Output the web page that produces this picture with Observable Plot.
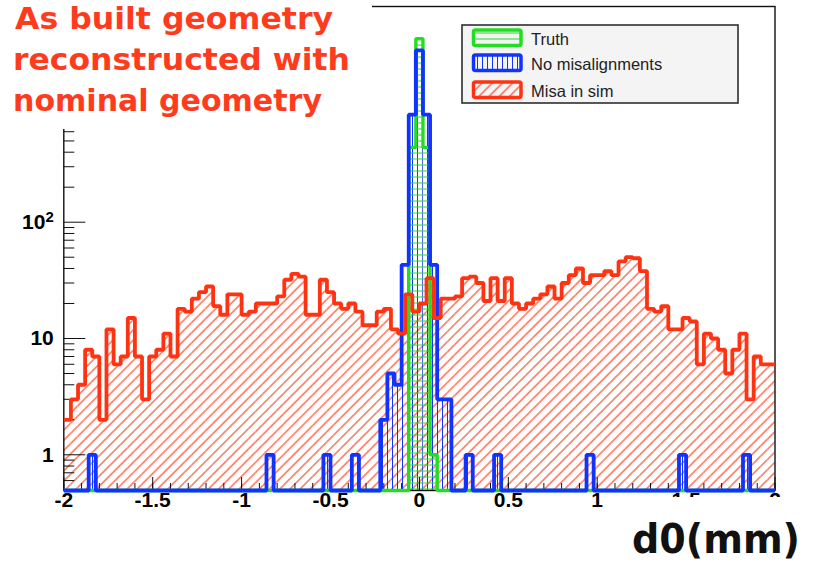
<!DOCTYPE html>
<html>
<head>
<meta charset="utf-8">
<script src="https://cdn.jsdelivr.net/npm/d3@7"></script>
<script src="https://cdn.jsdelivr.net/npm/@observablehq/plot@0.6"></script>
<style>
  html, body { margin: 0; padding: 0; background: #fff; }
  #fig { position: relative; width: 815px; height: 562px; overflow: hidden; background: #fff; }
  #fig svg.overlay { position: absolute; left: 0; top: 0; pointer-events: none; }
</style>
</head>
<body>
<!-- hatch fills shared by the histograms and the legend -->
<svg width="0" height="0" style="position:absolute">
  <defs>
    <pattern id="hatch-red" patternUnits="userSpaceOnUse" width="7.2" height="7.2" patternTransform="rotate(45)">
      <line x1="3.6" y1="-1" x2="3.6" y2="8.2" style="stroke:#ff4b2b;stroke-width:1.2"/>
    </pattern>
    <pattern id="hatch-blue" patternUnits="userSpaceOnUse" width="5" height="5">
      <line x1="2.5" y1="-1" x2="2.5" y2="6" style="stroke:#1133ff;stroke-width:1"/>
    </pattern>
    <pattern id="hatch-green" patternUnits="userSpaceOnUse" width="6" height="6">
      <line x1="-1" y1="3" x2="7" y2="3" style="stroke:#22dd22;stroke-width:1"/>
    </pattern>
  </defs>
</svg>
<div id="fig"></div>
<script>
// ---- histogram contents ----------------------------------------------
// "Misa in sim": 100 bins of 0.04 mm from -2 to 2
const histLo = -2;
const binWidth = 0.04;
const redCounts = [
  2, 3, 4, 8, 7, 2, 12, 6, 7, 15,
  7, 3, 7, 8, 11, 7, 18, 17, 22, 25,
  28, 19, 16, 24, 24, 16, 17, 20, 20, 20,
  23, 32, 36, 34, 16, 16, 32, 25, 20, 18,
  20, 17, 13, 13, 17, 18, 12, 11, 24, 17,
  20, 33, 15, 22, 22, 23, 33, 34, 30, 21,
  33, 21, 33, 20, 18, 20, 22, 24, 28, 22,
  30, 35, 40, 30, 35, 35, 38, 35, 46, 50,
  49, 38, 18, 17, 19, 12, 12, 15, 14, 6,
  11, 10, 8, 5, 8, 11, 3, 7, 6, 6
];

// "No misalignments": non-empty bins (bin centre in mm, entries)
const blueCenters = [-1.84, -0.84, -0.52, -0.36, -0.20, -0.16, -0.12, -0.08, -0.04, 0, 0.04, 0.08, 0.12, 0.16, 0.28, 0.44, 0.96, 1.48, 1.84];
const blueCounts  = [1, 1, 1, 1, 2, 5, 4, 43, 840, 3000, 840, 43, 3, 3, 1, 1, 1, 1, 1];

// "Truth": non-empty bins
const greenCenters = [-0.04, 0, 0.04, 0.08];
const greenCounts  = [440, 3780, 440, 1];

// ---- axes -------------------------------------------------------------
const xMin = -2, xMax = 2;
const yMin = 0.493, yMax = 7160;
const xMajorTicks = [-2, -1.5, -1, -0.5, 0, 0.5, 1, 1.5, 2];
const xTickLabels = ["-2", "-1.5", "-1", "-0.5", "0", "0.5", "1", "1.5", "2"];
const xMinorTicks = d3.range(-20, 21).map(k => k / 10);
const yMajorTicks = [1, 10, 100, 1000];
const yLabelTicks = [1, 10, 100];
const yTickLabels = ["1", "10", "10\u00B2"];
const yMinorTicks = [0.6, 0.7, 0.8, 0.9, 2, 3, 4, 5, 6, 7, 8, 9,
  20, 30, 40, 50, 60, 70, 80, 90, 200, 300, 400, 500, 600, 700, 800, 900,
  2000, 3000, 4000, 5000, 6000, 7000];

const legendEntries = [
  {label: "Truth", fill: "url(#hatch-green)", stroke: "#22dd22"},
  {label: "No misalignments", fill: "url(#hatch-blue)", stroke: "#1133ff"},
  {label: "Misa in sim", fill: "url(#hatch-red)", stroke: "#ff3311"}
];
const titleLines = ["As built geometry", "reconstructed with", "nominal geometry"];
const xTitle = "d0(mm)";

// ---- layout -----------------------------------------------------------
const W = 815, H = 562;
const mLeft = 63.3, mRight = 40.5, mTop = 6, mBottom = 72;
const frameW = W - mLeft - mRight, frameH = H - mTop - mBottom;
const RED = "#ff3311", BLUE = "#1133ff", GREEN = "#22dd22";

// ---- derived tables ---------------------------------------------------
const redBins = redCounts.map((c, i) => ({
  x1: histLo + i * binWidth, x2: histLo + (i + 1) * binWidth, count: c
}));

// bins centred on multiples of the bin width, clipped to the axis range
function centredBins(centers, counts) {
  const byIndex = new Map(centers.map((c, i) => [Math.round(c / binWidth), counts[i]]));
  const n = Math.round(xMax / binWidth);
  const bins = [];
  for (let k = -n; k <= n; k++) {
    const c = k * binWidth;
    bins.push({
      x1: Math.max(xMin, c - binWidth / 2),
      x2: Math.min(xMax, c + binWidth / 2),
      count: byIndex.get(k) ?? 0
    });
  }
  return bins;
}
const blueBins = centredBins(blueCenters, blueCounts);
const greenBins = centredBins(greenCenters, greenCounts);

// step outline; empty bins run along the bottom of the frame
const outline = bins => bins.flatMap(b => {
  const y = Math.max(b.count, yMin);
  return [{x: b.x1, y}, {x: b.x2, y}];
});

const fillMark = (bins, fill) =>
  Plot.rect(bins.filter(b => b.count > 0), {x1: "x1", x2: "x2", y1: yMin, y2: "count", fill});
const lineMark = (bins, stroke, strokeWidth) =>
  Plot.line(outline(bins), {x: "x", y: "y", stroke, strokeWidth, strokeLinejoin: "miter", strokeLinecap: "butt"});

const labelFont = "'Liberation Sans', Arial, Helvetica, sans-serif";

const chart = Plot.plot({
  width: W, height: H,
  marginLeft: mLeft, marginRight: mRight, marginTop: mTop, marginBottom: mBottom,
  style: {background: "white", color: "black"},
  x: {domain: [xMin, xMax]},
  y: {type: "log", domain: [yMin, yMax]},
  marks: [
    fillMark(redBins, "url(#hatch-red)"),
    fillMark(blueBins, "url(#hatch-blue)"),
    fillMark(greenBins, "url(#hatch-green)"),
    Plot.frame({stroke: "#111", strokeWidth: 1.4}),
    // inward ticks
    Plot.tickX(xMinorTicks, {x: d => d, insetTop: frameH - 7, stroke: "#111", strokeWidth: 1}),
    Plot.tickX(xMajorTicks, {x: d => d, insetTop: frameH - 13, stroke: "#111", strokeWidth: 1}),
    Plot.tickY(yMinorTicks, {y: d => d, insetRight: frameW - 11, stroke: "#111", strokeWidth: 1}),
    Plot.tickY(yMajorTicks, {y: d => d, insetRight: frameW - 22, stroke: "#111", strokeWidth: 1}),
    lineMark(greenBins, GREEN, 3.4),
    lineMark(blueBins, BLUE, 3.8),
    lineMark(redBins, RED, 3.8),
    Plot.axisX({
      ticks: xMajorTicks, tickSize: 0, tickPadding: 2, label: null,
      tickFormat: d => xTickLabels[xMajorTicks.indexOf(d)],
      fontSize: 21, fontWeight: "bold", fontFamily: labelFont
    }),
    Plot.axisY({
      ticks: yLabelTicks, tickSize: 0, tickPadding: 10, label: null,
      tickFormat: d => yTickLabels[yLabelTicks.indexOf(d)],
      fontSize: 21, fontWeight: "bold", fontFamily: labelFont
    })
  ]
});

// typeset the power-of-ten label with a raised exponent
d3.select(chart).selectAll("text").each(function() {
  const t = this.textContent;
  const m = /^10([\u00B2\u00B3])$/.exec(t);
  if (!m) return;
  const sel = d3.select(this).text("");
  sel.append("tspan").text("10");
  sel.append("tspan").attr("dy", "-0.45em").attr("font-size", 15).text(m[1] === "\u00B2" ? "2" : "3");
});

const fig = document.getElementById("fig");
fig.appendChild(chart);

// ---- annotations: title box, legend, axis title -----------------------
const ns = "http://www.w3.org/2000/svg";
const ov = d3.select(fig).append(() => document.createElementNS(ns, "svg"))
  .attr("class", "overlay").attr("width", W).attr("height", H);

// title box
ov.append("rect").attr("x", 0).attr("y", 0).attr("width", 372).attr("height", 129).attr("fill", "white");
const titleWidths = [318, 337, 309];
const titleX = [15, 13, 13];
ov.selectAll("text.title").data(titleLines).join("text")
  .attr("class", "title")
  .attr("x", (d, i) => titleX[i])
  .attr("y", (d, i) => 29 + i * 41)
  .attr("textLength", (d, i) => titleWidths[i])
  .attr("lengthAdjust", "spacingAndGlyphs")
  .attr("font-family", "'DejaVu Sans', Verdana, sans-serif")
  .attr("font-weight", "bold")
  .attr("font-size", 31)
  .attr("fill", "#ff3b1e")
  .text(d => d);

// legend
const lg = ov.append("g");
lg.append("rect").attr("x", 462).attr("y", 25).attr("width", 276).attr("height", 78)
  .attr("fill", "#f4f4f4").attr("stroke", "#222").attr("stroke-width", 1.5);
const rowY = [30, 55, 82];
const rowBase = [45, 70, 96.5];
legendEntries.forEach((e, i) => {
  lg.append("rect").attr("x", 473.5).attr("y", rowY[i]).attr("width", 47.5).attr("height", 15.5)
    .attr("rx", 2).attr("fill", e.fill).attr("stroke", e.stroke).attr("stroke-width", 3.5);
  lg.append("text").attr("x", 531).attr("y", rowBase[i])
    .attr("font-family", labelFont).attr("font-size", 16.5).attr("fill", "#222")
    .text(e.label);
});

// axis title
ov.append("rect").attr("x", 614).attr("y", 497).attr("width", 201).attr("height", 65).attr("fill", "white");
ov.append("text").attr("x", 632).attr("y", 553)
  .attr("textLength", 168).attr("lengthAdjust", "spacingAndGlyphs")
  .attr("font-family", "'DejaVu Sans', Verdana, sans-serif")
  .attr("font-weight", "bold").attr("font-size", 40).attr("fill", "#111")
  .text(xTitle);
</script>
</body>
</html>
